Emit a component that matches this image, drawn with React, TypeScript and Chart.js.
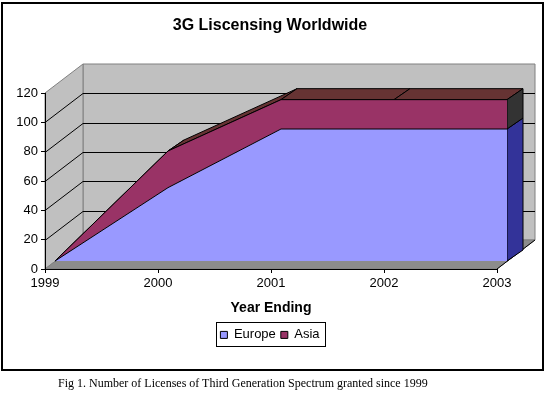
import { useEffect, useRef } from 'react';
import { Chart, registerables } from 'chart.js';

Chart.register(...registerables);

// ---- data ----
const years = ['1999', '2000', '2001', '2002', '2003'];
const europe = [0, 50, 90, 90, 90];
const asia = [0, 25, 20, 20, 20];
const yMin = 0;
const yMax = 120;
const yStep = 20;
const chartTitle = '3G Liscensing Worldwide';
const xTitle = 'Year Ending';
const seriesNames = ['Europe', 'Asia'];
const caption = 'Fig 1. Number of Licenses of Third Generation Spectrum granted since 1999';

// ---- styles ----
const FONT = '"Liberation Sans", Arial, sans-serif';
const WALL = '#c0c0c0';
const FLOOR = '#8c8c8c';
const EDGE = '#808080';
const EUROPE_FRONT = '#9999ff';
const EUROPE_SIDE = '#333399';
const ASIA_FRONT = '#993366';
const ASIA_TOP = '#663333';
const ASIA_SIDE = '#333333';

const WALL_DEPTH = { dx: 38, dy: -29 };
const SERIES_SHIFT = { dx: 10, dy: -8 };
const SERIES_DEPTH = { dx: 16, dy: -11 };

function poly(ctx: CanvasRenderingContext2D, pts: number[][], fill: string, stroke?: string) {
  ctx.beginPath();
  pts.forEach((p, i) => (i ? ctx.lineTo(p[0], p[1]) : ctx.moveTo(p[0], p[1])));
  ctx.closePath();
  ctx.fillStyle = fill;
  ctx.fill();
  if (stroke) {
    ctx.strokeStyle = stroke;
    ctx.lineWidth = 1;
    ctx.stroke();
  }
}

const threeD = {
  id: 'threeD',
  beforeDraw(chart: any) {
    const { ctx } = chart;
    const xs = chart.scales.x;
    const ys = chart.scales.y;
    const xl = xs.getPixelForTick(0);
    const xr = xs.getPixelForTick(xs.ticks.length - 1);
    const yb = ys.getPixelForValue(ys.min);
    const yt = ys.getPixelForValue(ys.max);
    const { dx, dy } = WALL_DEPTH;
    ctx.save();
    poly(ctx, [[xl + dx, yt + dy], [xr + dx, yt + dy], [xr + dx, yb + dy], [xl + dx, yb + dy]], WALL, EDGE);
    poly(ctx, [[xl, yt], [xl + dx, yt + dy], [xl + dx, yb + dy], [xl, yb]], WALL, EDGE);
    poly(ctx, [[xl, yb], [xr, yb], [xr + dx, yb + dy], [xl + dx, yb + dy]], FLOOR, EDGE);
    ctx.strokeStyle = '#000';
    ctx.lineWidth = 1;
    ctx.beginPath();
    ctx.moveTo(xr, yb);
    ctx.lineTo(xr + dx, yb + dy);
    ctx.stroke();
    for (const t of ys.ticks) {
      if (t.value <= ys.min || t.value >= ys.max) continue;
      const y = Math.round(ys.getPixelForValue(t.value)) + 0.5;
      ctx.beginPath();
      ctx.moveTo(xl, y);
      ctx.lineTo(xl + dx, y + dy);
      ctx.lineTo(xr + dx, y + dy);
      ctx.stroke();
    }
    ctx.restore();
  },
  beforeDatasetsDraw(chart: any) {
    const { ctx } = chart;
    const ys = chart.scales.y;
    const base = ys.getPixelForValue(0);
    const D = SERIES_DEPTH;
    const e = chart.getDatasetMeta(0).data;
    const a = chart.getDatasetMeta(1).data;
    ctx.save();
    ctx.translate(SERIES_SHIFT.dx, SERIES_SHIFT.dy);
    for (let i = 0; i < a.length - 1; i++) {
      const p = a[i];
      const q = a[i + 1];
      poly(ctx, [[p.x, p.y], [q.x, q.y], [q.x + D.dx, q.y + D.dy], [p.x + D.dx, p.y + D.dy]], ASIA_TOP, '#000');
    }
    const n = e.length - 1;
    const pe = e[n];
    const pa = a[n];
    poly(ctx, [[pe.x, pe.y], [pe.x, base], [pe.x + D.dx, base + D.dy], [pe.x + D.dx, pe.y + D.dy]], EUROPE_SIDE, '#000');
    poly(ctx, [[pa.x, pa.y], [pa.x, pe.y], [pa.x + D.dx, pe.y + D.dy], [pa.x + D.dx, pa.y + D.dy]], ASIA_SIDE, '#000');
  },
  afterDatasetsDraw(chart: any) {
    chart.ctx.restore();
  },
  afterDraw(chart: any) {
    const boxes = chart.legend && chart.legend.legendHitBoxes;
    if (!boxes || !boxes.length) return;
    let l = Infinity, r = -Infinity, t = Infinity, b = -Infinity;
    boxes.forEach((h: any) => {
      l = Math.min(l, h.left);
      r = Math.max(r, h.left + h.width);
      t = Math.min(t, h.top);
      b = Math.max(b, h.top + h.height);
    });
    const ctx = chart.ctx;
    ctx.save();
    ctx.strokeStyle = '#000';
    ctx.lineWidth = 1;
    ctx.strokeRect(Math.round(l - 4) + 0.5, Math.round(t - 6) + 0.5, Math.round(r - l + 10), Math.round(b - t + 11));
    ctx.restore();
  },
};

export default function App() {
  const ref = useRef<HTMLCanvasElement>(null);
  useEffect(() => {
    if (!ref.current) return;
    const tickFont = { family: FONT, size: 13 };
    const chart = new Chart(ref.current, {
      type: 'line',
      data: {
        labels: years,
        datasets: [
          {
            label: seriesNames[0],
            data: europe,
            backgroundColor: EUROPE_FRONT,
            borderColor: '#000',
            borderWidth: 1,
            fill: 'origin',
            pointRadius: 0,
            tension: 0,
            clip: false as any,
          },
          {
            label: seriesNames[1],
            data: asia,
            backgroundColor: ASIA_FRONT,
            borderColor: '#000',
            borderWidth: 1,
            fill: '-1',
            pointRadius: 0,
            tension: 0,
            clip: false as any,
          },
        ],
      },
      options: {
        animation: false,
        responsive: false,
        layout: { padding: { left: 0, right: 0, top: 0, bottom: 18.6 } },
        plugins: {
          title: {
            display: true,
            text: chartTitle,
            color: '#000',
            font: { family: FONT, size: 16, weight: 'bold' },
            padding: { top: 16.4, bottom: 57.4 },
          },
          legend: {
            position: 'bottom',
            labels: { color: '#000', font: { family: FONT, size: 13 }, boxWidth: 7, boxHeight: 7, padding: 5 },
          },
          tooltip: { enabled: false },
        },
        scales: {
          x: {
            offset: false,
            grid: { drawOnChartArea: false, color: '#000', tickLength: 4 },
            border: { color: '#000' },
            ticks: { color: '#000', font: tickFont, padding: 3, maxRotation: 0, autoSkip: false },
            title: {
              display: true,
              text: xTitle,
              color: '#000',
              font: { family: FONT, size: 14, weight: 'bold' },
              padding: { top: 5, bottom: 7 },
            },
          },
          y: {
            stacked: true,
            min: yMin,
            max: yMax,
            ticks: { stepSize: yStep, color: '#000', font: tickFont, padding: 3 },
            grid: { drawOnChartArea: false, color: '#000', tickLength: 4 },
            border: { color: '#000' },
            afterFit: (s: any) => {
              s.width = 45;
            },
          },
          yR: {
            type: 'linear',
            position: 'right',
            display: true,
            grid: { display: false },
            border: { display: false },
            ticks: { display: false },
            afterFit: (s: any) => {
              s.width = 43;
            },
          },
        },
      } as any,
      plugins: [threeD],
    });
    return () => chart.destroy();
  }, []);

  return (
    <div style={{ position: 'absolute', left: 0, top: 0, width: 549, height: 399, background: '#fff' }}>
      <canvas ref={ref} width={540} height={370} style={{ position: 'absolute', left: 0, top: 0 }} />
      <div
        style={{
          position: 'absolute',
          left: 1,
          top: 2,
          width: 543,
          height: 369,
          boxSizing: 'border-box',
          border: '2px solid #000',
          pointerEvents: 'none',
        }}
      />
      <div
        style={{
          position: 'absolute',
          left: 58,
          top: 376,
          fontFamily: '"Liberation Serif", "Times New Roman", serif',
          fontSize: 12,
          lineHeight: '14px',
          whiteSpace: 'nowrap',
          color: '#000',
        }}
      >
        {caption}
      </div>
    </div>
  );
}
